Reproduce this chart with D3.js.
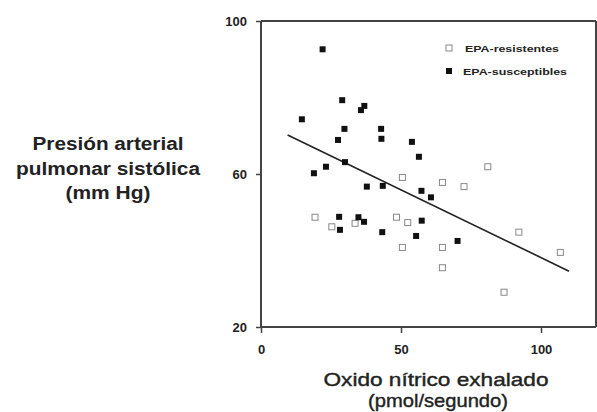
<!DOCTYPE html>
<html lang="es">
<head>
<meta charset="utf-8" />
<script src="https://cdn.jsdelivr.net/npm/d3@7"></script>
<style>
  body { margin: 0; background: #fff; }
  text { font-family: "Liberation Sans", Arial, sans-serif; fill: #222; }
</style>
</head>
<body>
<script>
// EPA-susceptibles (filled squares)
var suscX = [22.0, 29.0, 36.9, 35.7, 14.6, 29.8, 42.9, 27.5, 43.0, 53.9, 56.4, 30.0, 23.2,
             18.9, 37.8, 43.5, 57.3, 60.7, 27.9, 34.8, 36.8, 28.2, 43.3, 57.4, 55.4, 70.2];
var suscY = [92.6, 79.3, 77.8, 76.7, 74.3, 71.8, 71.8, 68.9, 69.2, 68.4, 64.5, 63.1, 61.9,
             60.2, 56.7, 56.9, 55.6, 53.9, 48.8, 48.7, 47.5, 45.4, 44.8, 47.8, 43.8, 42.5];
// EPA-resistentes (open squares)
var resisX = [50.5, 19.3, 33.6, 25.3, 48.4, 52.4, 50.5, 81.0, 64.8, 72.5, 64.8, 64.8, 92.1, 106.9, 86.8];
var resisY = [59.1, 48.7, 47.1, 46.2, 48.7, 47.3, 40.8, 61.9, 57.8, 56.7, 40.8, 35.5, 44.8, 39.5, 29.1];
// regression line ends
var fitX = [9.5, 110];
var fitY = [70.2, 34.6];

var xTicks = [0, 50, 100];
var yTicks = [20, 60, 100];
var legendLabels = ["EPA-resistentes", "EPA-susceptibles"];

var w = 597, h = 412;
var svg = d3.select("body").append("svg")
    .attr("width", w).attr("height", h);

var x = d3.scaleLinear().domain([0, 120]).range([261, 597]);
var y = d3.scaleLinear().domain([20, 100]).range([327, 21]);

// frame
var frame = svg.append("g").attr("stroke", "#444").attr("stroke-width", 2).attr("fill", "none");
frame.append("line").attr("x1", x(0)).attr("x2", x(120) - 1).attr("y1", y(100)).attr("y2", y(100));
frame.append("line").attr("x1", x(120) - 1).attr("x2", x(120) - 1).attr("y1", y(100)).attr("y2", y(20));
frame.append("line").attr("x1", x(0)).attr("x2", x(0)).attr("y1", y(100)).attr("y2", y(20));
frame.append("line").attr("x1", x(0)).attr("x2", x(120) - 1).attr("y1", y(20)).attr("y2", y(20));

// axes
var yAxis = svg.append("g").attr("transform", "translate(" + x(0) + ",0)")
    .call(d3.axisLeft(y).tickValues(yTicks).tickSize(5).tickPadding(9));
var xAxis = svg.append("g").attr("transform", "translate(0," + y(20) + ")")
    .call(d3.axisBottom(x).tickValues(xTicks).tickSize(6).tickPadding(12));
[xAxis, yAxis].forEach(function(a) {
  a.select(".domain").remove();
  a.selectAll("line").attr("stroke", "#444").attr("stroke-width", 1.5);
  a.selectAll("text").style("font-size", "13px").style("font-weight", "bold")
    .attr("fill", "#333").style("font-family", "'Liberation Sans', Arial, sans-serif");
});

// regression line
svg.append("line")
    .attr("x1", x(fitX[0])).attr("y1", y(fitY[0]))
    .attr("x2", x(fitX[1])).attr("y2", y(fitY[1]))
    .attr("stroke", "#222").attr("stroke-width", 1.6);

// open squares
svg.selectAll("rect.res")
    .data(resisX)
    .enter()
    .append("rect")
    .attr("class", "res")
    .attr("x", function(d) { return x(d) - 3; })
    .attr("y", function(d, i) { return y(resisY[i]) - 3; })
    .attr("width", 6).attr("height", 6)
    .attr("fill", "#fff").attr("stroke", "#888").attr("stroke-width", 1);

// filled squares
svg.selectAll("rect.sus")
    .data(suscX)
    .enter()
    .append("rect")
    .attr("class", "sus")
    .attr("x", function(d) { return x(d) - 3; })
    .attr("y", function(d, i) { return y(suscY[i]) - 3; })
    .attr("width", 6).attr("height", 6)
    .attr("fill", "#111");

// legend
var lg = svg.append("g");
lg.append("rect").attr("x", 446).attr("y", 45).attr("width", 6).attr("height", 6)
    .attr("fill", "#fff").attr("stroke", "#888");
lg.append("rect").attr("x", 446).attr("y", 68).attr("width", 6).attr("height", 6)
    .attr("fill", "#111");
lg.append("text").attr("x", 465).attr("y", 52).text(legendLabels[0])
    .style("font-size", "9px").style("font-weight", "bold").attr("fill", "#444")
    .attr("textLength", 94).attr("lengthAdjust", "spacingAndGlyphs");
lg.append("text").attr("x", 463).attr("y", 75).text(legendLabels[1])
    .style("font-size", "9px").style("font-weight", "bold").attr("fill", "#444")
    .attr("textLength", 104).attr("lengthAdjust", "spacingAndGlyphs");

// y title
var yt = ["Presión arterial", "pulmonar sistólica", "(mm Hg)"];
var ytW = [151, 184, 85];
svg.selectAll("text.ytitle")
    .data(yt)
    .enter()
    .append("text")
    .attr("class", "ytitle")
    .attr("x", 108)
    .attr("y", function(d, i) { return 150 + i * 24.5; })
    .attr("text-anchor", "middle")
    .style("font-size", "18px").style("font-weight", "bold")
    .attr("textLength", function(d, i) { return ytW[i]; })
    .attr("lengthAdjust", "spacingAndGlyphs")
    .text(function(d) { return d; });

// x title
svg.append("text").attr("x", 436).attr("y", 386).attr("text-anchor", "middle")
    .style("font-size", "19px").attr("stroke", "#222").attr("stroke-width", 0.4)
    .attr("textLength", 225).attr("lengthAdjust", "spacingAndGlyphs")
    .text("Oxido nítrico exhalado");
svg.append("text").attr("x", 438).attr("y", 407).attr("text-anchor", "middle")
    .style("font-size", "19px").attr("stroke", "#222").attr("stroke-width", 0.4)
    .attr("textLength", 140).attr("lengthAdjust", "spacingAndGlyphs")
    .text("(pmol/segundo)");
</script>
</body>
</html>
